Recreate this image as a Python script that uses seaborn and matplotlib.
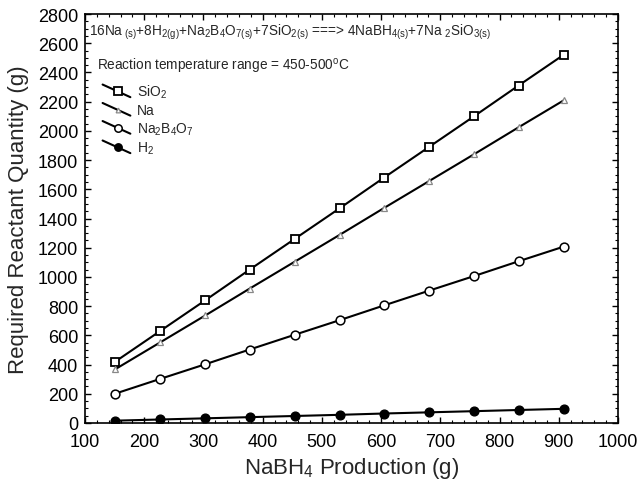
import matplotlib
matplotlib.use("Agg")
import matplotlib.pyplot as plt
import seaborn as sns
import pandas as pd
from matplotlib.lines import Line2D
from matplotlib.legend_handler import HandlerBase
from matplotlib.ticker import MultipleLocator

# Data
nabh4 = [151, 227, 303, 378, 454, 530, 605, 681, 757, 832, 908]
sio2 = [420, 630, 840, 1050, 1260, 1470, 1680, 1890, 2100, 2310, 2520]
na = [368, 552, 736, 920, 1104, 1288, 1472, 1656, 1840, 2024, 2208]
na2b4o7 = [201, 302, 402, 503, 604, 704, 805, 906, 1006, 1107, 1207]
h2 = [16, 24, 32, 40, 48, 56, 65, 73, 81, 89, 97]
series_labels = ["SiO$_2$", "Na", "Na$_2$B$_4$O$_7$", "H$_2$"]
x_ticks = [100, 200, 300, 400, 500, 600, 700, 800, 900, 1000]
y_ticks = list(range(0, 2801, 200))

sns.set_theme(style="ticks")
plt.rcParams['font.family'] = ['Liberation Sans', 'DejaVu Sans']
plt.rcParams['mathtext.default'] = 'regular'
plt.rcParams['mathtext.fontset'] = 'custom'
plt.rcParams['mathtext.rm'] = 'Liberation Sans'
plt.rcParams['mathtext.it'] = 'Liberation Sans:italic'

fig = plt.figure(figsize=(6.41, 4.85), dpi=100)
ax = fig.add_axes([85/641, 1-424/485, (618-85)/641, (424-15)/485])

styles = [
    dict(marker='s', ms=6, mfc='white', mec='black', mew=1.3, color='black'),
    dict(marker='^', ms=4, mfc='white', mec='#888888', mew=0.9, color='black'),
    dict(marker='o', ms=6.3, mfc='white', mec='black', mew=1.1, color='black'),
    dict(marker='o', ms=6.3, mfc='black', mec='black', mew=1.0, color='black'),
]
handles = []
for ys, lab, st in zip([sio2, na, na2b4o7, h2], series_labels, styles):
    df = pd.DataFrame({"x": nabh4, "y": ys})
    sns.lineplot(data=df, x="x", y="y", ax=ax, lw=1.5, legend=False, **st)
    handles.append(Line2D([], [], lw=1.5, label=lab, **st))

ax.set_xlim(100, 1000)
ax.set_ylim(0, 2800)
ax.set_xticks(x_ticks)
ax.set_yticks(y_ticks)
ax.xaxis.set_minor_locator(MultipleLocator(20))
ax.yaxis.set_minor_locator(MultipleLocator(50))
ax.tick_params(which='both', direction='in', top=True, right=True, colors='black', labelsize=13)
ax.tick_params(which='major', length=4.5, width=1.0)
ax.tick_params(axis='y', which='major', pad=5)
ax.tick_params(axis='x', which='major', pad=7)
ax.tick_params(which='minor', length=2.5, width=0.8)
for s in ax.spines.values():
    s.set_color('black')
    s.set_linewidth(1.2)
ax.set_xlabel("NaBH$_4$ Production (g)", fontsize=16, labelpad=4)
ax.set_ylabel("Required Reactant Quantity (g)", fontsize=16, labelpad=6)

ax.text(0.008, 0.982,
        "16Na$_{\\ (s)}$+8H$_{2(g)}$+Na$_2$B$_4$O$_{7(s)}$+7SiO$_{2(s)}$ ===> 4NaBH$_{4(s)}$+7Na $_2$SiO$_{3(s)}$",
        transform=ax.transAxes, fontsize=9.8, va='top', ha='left')
ax.text(0.022, 0.898, "Reaction temperature range = 450-500$^{o}$C",
        transform=ax.transAxes, fontsize=9.8, va='top', ha='left')


class DiagHandler(HandlerBase):
    def create_artists(self, legend, orig, xd, yd, w, h, fs, trans):
        x0, x1 = -xd, -xd + w
        y0, y1 = -yd + h * 1.15, -yd - h * 0.15
        ln = Line2D([x0, x1], [y0, y1], color='black', lw=1.5, transform=trans)
        t = 0.55
        mk = Line2D([x0 + t * (x1 - x0)], [y0 + t * (y1 - y0)], ls='none',
                    marker=orig.get_marker(), ms=orig.get_markersize() * 0.85,
                    mfc=orig.get_markerfacecolor(), mec=orig.get_markeredgecolor(),
                    mew=orig.get_markeredgewidth(), transform=trans)
        return [ln, mk]


leg = ax.legend(handles=handles, handler_map={Line2D: DiagHandler()},
                loc='upper left', bbox_to_anchor=(0.033, 0.832), frameon=False,
                fontsize=10, handlelength=2.0, handletextpad=0.45, labelspacing=0.22,
                borderaxespad=0, borderpad=0)

fig.savefig("out.png", dpi=100)
